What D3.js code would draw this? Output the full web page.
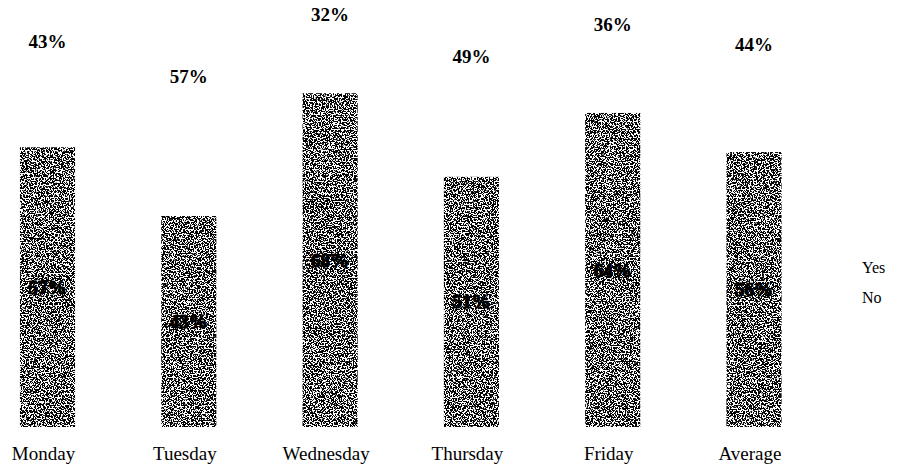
<!DOCTYPE html>
<html>
<head>
<meta charset="utf-8">
<script src="https://cdn.jsdelivr.net/npm/d3@7"></script>
<style>
  html, body { margin: 0; padding: 0; background: #fff; }
  svg { display: block; }
  text { font-family: "Liberation Serif", "DejaVu Serif", serif; fill: #000; }
</style>
</head>
<body>
<svg id="chart" width="909" height="473"></svg>
<script>
const categories = ["Monday", "Tuesday", "Wednesday", "Thursday", "Friday", "Average"];
const yesValues = [43, 57, 32, 49, 36, 44];
const noValues  = [57, 43, 68, 51, 64, 56];
const seriesNames = ["Yes", "No"];

const W = 909, H = 473;
const svg = d3.select("#chart");

// grain filter to mimic the scanned halftone texture
const defs = svg.append("defs");
const f = defs.append("filter").attr("id", "grain")
  .attr("x", 0).attr("y", 0).attr("width", 1).attr("height", 1)
  .attr("filterUnits", "objectBoundingBox");
f.append("feTurbulence").attr("type", "fractalNoise")
  .attr("baseFrequency", 0.75).attr("numOctaves", 2).attr("seed", 7).attr("result", "n");
f.append("feColorMatrix").attr("in", "n").attr("type", "matrix")
  .attr("values", "0 0 0 0 0  0 0 0 0 0  0 0 0 0 0  -30 0 0 0 15.9").attr("result", "dots");
f.append("feComposite").attr("in", "dots").attr("in2", "SourceGraphic").attr("operator", "in");

const x = d3.scaleBand()
  .domain(categories)
  .range([-23.15, 824.65])
  .paddingInner(0.61)
  .paddingOuter(0.305);

const y = d3.scaleLinear().domain([0, 100]).range([427, -64]);

const rows = categories.map((c, i) => ({ cat: c, yes: yesValues[i], no: noValues[i] }));
const stack = d3.stack().keys(["no", "yes"])(rows);

const g = svg.append("g");

// "No" segment: textured bars; "Yes" segment: white (invisible)
stack.forEach(layer => {
  const isNo = layer.key === "no";
  g.selectAll(null).data(layer).enter().append("rect")
    .attr("x", d => x(d.data.cat))
    .attr("width", x.bandwidth())
    .attr("y", d => y(d[1]))
    .attr("height", d => y(d[0]) - y(d[1]))
    .attr("fill", isNo ? "#000" : "#fff")
    .attr("filter", isNo ? "url(#grain)" : null);
});

stack.forEach(layer => {
  const isNo = layer.key === "no";
  g.selectAll(null).data(layer).enter().append("text")
    .attr("x", d => x(d.data.cat) + x.bandwidth() / 2)
    .attr("y", d => (y(d[0]) + y(d[1])) / 2)
    .attr("dy", "0.35em")
    .attr("text-anchor", "middle")
    .attr("font-size", 19)
    .attr("font-weight", "bold")
    .attr("stroke", isNo ? "#000" : "none")
    .attr("stroke-width", isNo ? 1.2 : 0)
    .text(d => (d[1] - d[0]) + "%");
});

// category axis labels
const xAxis = d3.axisBottom(x).tickSize(0).tickPadding(0);
const ax = svg.append("g").attr("transform", "translate(-4,446)").call(xAxis);
ax.select(".domain").remove();
ax.selectAll("text")
  .attr("font-size", 19)
  .style("font-family", "'Liberation Serif', serif")
  .attr("fill", "#000");

// legend
const legend = svg.append("g").attr("transform", "translate(862,0)");
legend.selectAll(null).data(seriesNames).enter().append("text")
  .attr("x", 0)
  .attr("y", (d, i) => 267 + i * 30)
  .attr("dy", "0.35em")
  .attr("font-size", 16)
  .text(d => d);
</script>
</body>
</html>
